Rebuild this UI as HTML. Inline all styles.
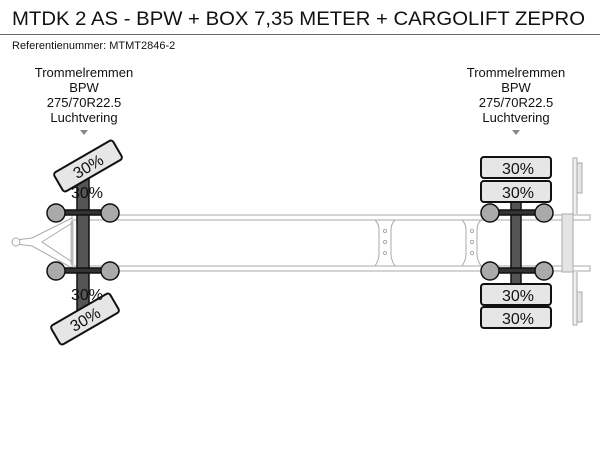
<!DOCTYPE html>
<html><head><style>
html,body{margin:0;padding:0;background:#fff;}
svg{display:block;font-family:"Liberation Sans",sans-serif;}
</style></head><body>
<svg width="600" height="450" viewBox="0 0 600 450">
<text x="12" y="25" font-size="19" fill="#111" textLength="573" lengthAdjust="spacingAndGlyphs">MTDK 2 AS - BPW + BOX 7,35 METER + CARGOLIFT ZEPRO</text>
<line x1="0" y1="34.5" x2="600" y2="34.5" stroke="#666" stroke-width="1"/>
<text x="12" y="49" font-size="11" fill="#111">Referentienummer: MTMT2846-2</text>
<g font-size="13" fill="#111" text-anchor="middle">
<text x="84" y="77">Trommelremmen</text><text x="84" y="92">BPW</text><text x="84" y="107">275/70R22.5</text><text x="84" y="122">Luchtvering</text>
<text x="516" y="77">Trommelremmen</text><text x="516" y="92">BPW</text><text x="516" y="107">275/70R22.5</text><text x="516" y="122">Luchtvering</text>
</g>
<polygon points="80,130 88,130 84,135" fill="#888"/>
<polygon points="512,130 520,130 516,135" fill="#888"/>
<g fill="#fff" stroke="#aaa" stroke-width="1">
<rect x="72" y="215" width="518" height="5"/>
<rect x="72" y="266" width="518" height="5"/>
<path d="M72,221 L72,265" stroke="#bbb" stroke-width="3"/>
<path d="M72,218 L32,238 L16,240 M72,268 L32,246 L16,244 M72,223 L42,242 L72,262" fill="none" stroke="#aaa"/>
<circle cx="16" cy="242" r="4"/>
<path d="M375,220 q4,4 4,10 v24 q0,6 -4,12 M395,220 q-4,4 -4,10 v24 q0,6 4,12" fill="none"/>
<path d="M462,220 q4,4 4,10 v24 q0,6 -4,12 M481,220 q-4,4 -4,10 v24 q0,6 4,12" fill="none"/>
<circle cx="385" cy="231" r="1.6"/><circle cx="385" cy="242" r="1.6"/><circle cx="385" cy="253" r="1.6"/>
<circle cx="472" cy="231" r="1.6"/><circle cx="472" cy="242" r="1.6"/><circle cx="472" cy="253" r="1.6"/>
<rect x="562" y="214" width="11" height="58" fill="#e4e4e4"/>
<path d="M573,214 V158 H577 V214 M573,272 V325 H577 V272" fill="#f0f0f0"/>
<rect x="577" y="163" width="5" height="30" fill="#e4e4e4"/>
<rect x="577" y="292" width="5" height="30" fill="#e4e4e4"/>
</g>
<rect x="77" y="178" width="12" height="134" fill="#555" stroke="#111" stroke-width="1.5"/>
<g stroke="#111" stroke-width="1.5">
<rect x="56" y="210" width="54" height="5" fill="#333"/>
<rect x="56" y="268" width="54" height="5" fill="#333"/>
<circle cx="56" cy="213" r="9" fill="#aaa"/><circle cx="110" cy="213" r="9" fill="#aaa"/>
<circle cx="56" cy="271" r="9" fill="#aaa"/><circle cx="110" cy="271" r="9" fill="#aaa"/>
</g>
<g transform="translate(88,166) rotate(-30)">
<rect x="-34" y="-11" width="68" height="22" rx="3" fill="#e6e6e6" stroke="#111" stroke-width="2"/>
<text x="0" y="6" font-size="16" text-anchor="middle" fill="#111">30%</text></g>
<g transform="translate(85,319) rotate(-30)">
<rect x="-34" y="-11" width="68" height="22" rx="3" fill="#e6e6e6" stroke="#111" stroke-width="2"/>
<text x="0" y="6" font-size="16" text-anchor="middle" fill="#111">30%</text></g>
<text x="87" y="198" font-size="16" text-anchor="middle" fill="#111">30%</text>
<text x="87" y="300" font-size="16" text-anchor="middle" fill="#111">30%</text>
<rect x="511" y="200" width="10" height="85" fill="#555" stroke="#111" stroke-width="1.5"/>
<g stroke="#111" stroke-width="1.5">
<rect x="490" y="210" width="54" height="5" fill="#333"/>
<rect x="490" y="268" width="54" height="5" fill="#333"/>
<circle cx="490" cy="213" r="9" fill="#aaa"/><circle cx="544" cy="213" r="9" fill="#aaa"/>
<circle cx="490" cy="271" r="9" fill="#aaa"/><circle cx="544" cy="271" r="9" fill="#aaa"/>
</g>
<g stroke="#111" stroke-width="2" fill="#e6e6e6">
<rect x="481" y="157" width="70" height="21" rx="3"/>
<rect x="481" y="181" width="70" height="21" rx="3"/>
<rect x="481" y="284" width="70" height="21" rx="3"/>
<rect x="481" y="307" width="70" height="21" rx="3"/>
</g>
<g font-size="16" text-anchor="middle" fill="#111">
<text x="518" y="174">30%</text><text x="518" y="198">30%</text>
<text x="518" y="301">30%</text><text x="518" y="324">30%</text>
</g>
</svg>
</body></html>
